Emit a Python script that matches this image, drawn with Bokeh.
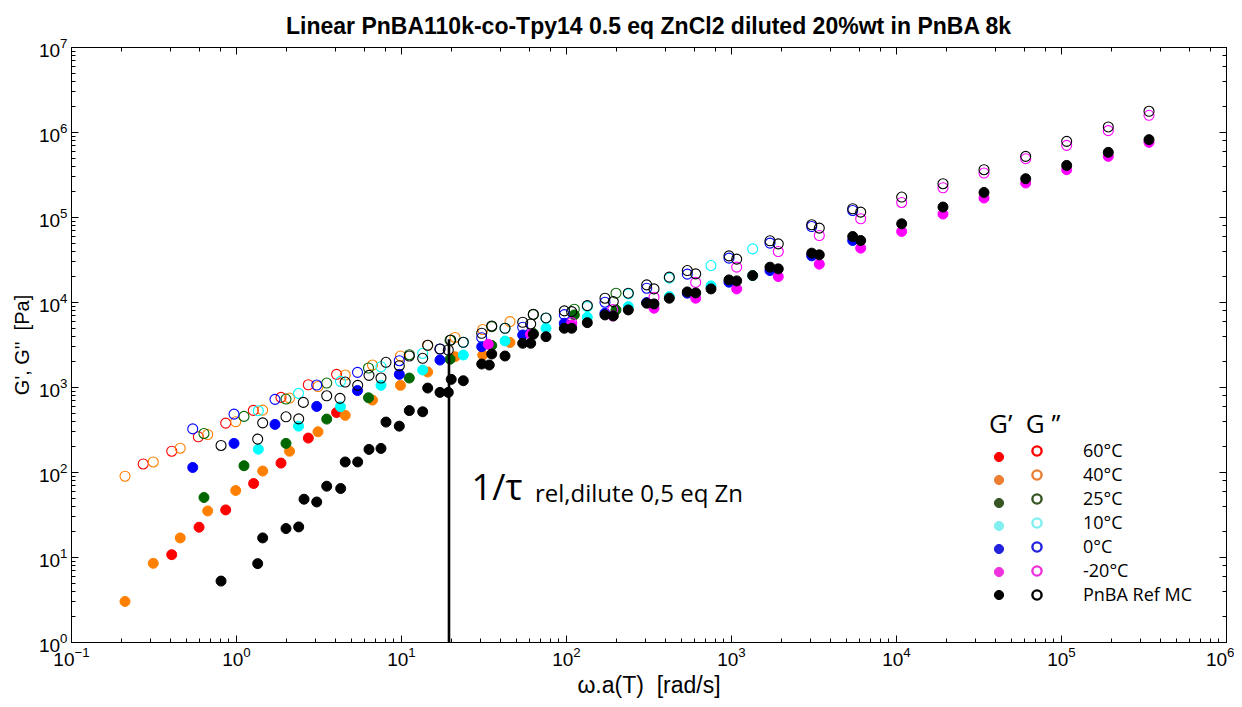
from bokeh.plotting import figure
from bokeh.models import LogAxis, Range1d, Label, Legend, LegendItem
from bokeh.embed import file_html
from bokeh.resources import INLINE

# ---------------- data (omega.a(T) in rad/s, G in Pa) ----------------
red_open_w = [0.272, 0.405, 0.587, 0.860, 1.264, 1.861, 2.724, 4.04]
red_open_g = [126, 178, 263, 381, 538, 765, 1077, 1428]
red_fill_w = [0.405, 0.593, 0.860, 1.27, 1.861, 2.724, 4.04]
red_fill_g = [10.8, 22.7, 36.3, 74.2, 129, 254, 507]

orange_w = [0.211, 0.313, 0.456, 0.669, 0.989, 1.441, 2.096, 3.118, 4.558, 6.671,
            9.861, 14.41, 21.1, 31.06, 45.46]
orange_open_g = [90.4, 133, 193, 280, 395, 542, 751, 1026, 1402, 1838,
                 2347, 3138, 3877, 4817, 5953]
orange_fill_g = [3.04, 8.54, 17.0, 35.3, 61.4, 104, 178, 301, 470, 711,
                 1060, 1521, 2303, 2412, 3385]

green_w = [0.635, 1.110, 1.995, 3.522, 6.31, 11.15, 19.7, 35.22, 62.92, 111.5, 199.5]
green_open_g = [288, 457, 731, 1128, 1695, 2431, 3593, 5197, 7197, 8333, 12865]
green_fill_g = [50.8, 120, 220, 425, 757, 1292, 2151, 3121, 4321, 7138, 8178]

cyan_w = [1.356, 2.376, 4.268, 7.511, 13.44, 23.69, 42.40, 75.11, 133.7, 236.9,
          419.8, 751.1, 1344]
cyan_open_g = [532, 853, 1181, 1755, 2525, 3403, 4976, 6526, 8942, 12620,
               19320, 27200, 42790]
cyan_fill_g = [188, 351, 593, 1060, 1605, 2412, 3526, 4976, 6705, 8942,
               11730, 15680, 20740]

blue_w = [0.543, 0.966, 1.711, 3.063, 5.412, 9.698, 17.11, 30.63, 54.27, 96.98,
          171.1, 306.3, 539.7, 965.6, 1711, 3063, 5427]
blue_open_g = [326, 486, 725, 1069, 1508, 2066, 2838, 3856, 5113, 7197,
               10080, 14730, 21540, 33240, 49940, 78390, 121000]
blue_fill_g = [114.5, 220, 368, 599, 920, 1428, 2105, 3021, 4150, 5698,
               7474, 9968, 12870, 17340, 23750, 35390, 53600]

magenta_fill_w = [33.58, 60.5, 107.5, 190.6, 339.1, 606.7, 1075, 1921, 3405, 6067,
                  10750, 19130, 33910, 60670, 107500, 192100, 339100]
magenta_fill_g = [3224, 4228, 5443, 6947, 8564, 11230, 14450, 20180, 28260, 43610,
                  68440, 109700, 169400, 254400, 365000, 523800, 765600]
magenta_open_w = [107.5, 190.6, 339.1, 606.7, 1075, 1921, 3405, 6067,
                  10750, 19130, 33910, 60670, 107500, 192100, 339100]
magenta_open_g = [5793, 8244, 11540, 17240, 26040, 39780, 61400, 96580,
                  150300, 224000, 333800, 492000, 705900, 1052000, 1593000]

black_fill_w = [0.806, 1.344, 1.441, 1.995, 2.382, 2.566, 3.063, 3.522, 4.28, 4.558,
                5.427, 6.353, 7.511, 8.055, 9.698, 11.15, 13.44, 14.41, 17.11, 19.21,
                20.01, 23.69, 30.63, 34.05, 35.22, 42.4, 54.27, 60.67, 62.92, 75.11,
                96.98, 107.5, 133.7, 171.1, 192.1, 236.9, 306.3, 339.1, 419.8, 539.7,
                606.7, 751.1, 965.6, 1075, 1344, 1711, 1921, 3063, 3405, 5427,
                6067, 10750, 19130, 33910, 60670, 107500, 192100, 339100]
black_fill_g = [5.28, 8.47, 17.0, 21.9, 22.9, 48.5, 45.0, 69.0, 64.8, 133,
                133, 187, 192, 392, 351, 535, 518, 985, 876, 876,
                1247, 1201, 1889, 1838, 2478, 2347, 3312, 3312, 4228, 3963,
                4976, 4976, 5793, 7138, 6947, 8178, 9806, 9623, 11230, 13320,
                12970, 14450, 18450, 17960, 20740, 26040, 24870, 38080, 36370, 59750,
                53600, 84330, 132700, 197100, 286000, 410200, 583900, 823900]
black_open_w = [0.806, 1.344, 1.441, 1.995, 2.382, 2.541, 3.522, 4.24, 4.558, 5.427,
                6.353, 7.511, 8.055, 9.698, 11.15, 13.44, 14.41, 17.11, 19.21, 19.87,
                23.69, 30.63, 35.22, 42.4, 54.27, 60.67, 62.92, 75.11, 96.98, 107.5,
                133.7, 171.1, 192.1, 236.9, 306.3, 339.1, 419.8, 539.7, 606.7, 965.6,
                1075, 1711, 1921, 3063, 3405, 5427, 6067, 10750, 19130, 33910,
                60670, 107500, 192100, 339100]
black_open_g = [208, 247, 384, 452, 428, 668, 799, 745, 1159, 1060,
                1390, 1292, 1978, 1804, 2347, 2205, 3138, 2838, 2762, 3623,
                3403, 4345, 5297, 4976, 5856, 5592, 7275, 6581, 7960, 7806,
                9189, 11230, 10240, 12870, 16120, 14450, 19860, 23750, 21720, 35390,
                32360, 53170, 49000, 82100, 75060, 126700, 115800, 174000, 249700, 365000,
                523800, 786700, 1163000, 1776000]

tau_line_w = [19.4, 19.4]
tau_line_g = [1.0, 3700]

legend_labels = ["60°C", "40°C", "25°C", "10°C", "0°C", "-20°C", "PnBA Ref MC"]
legend_colors = ["#FF0000", "#ED7D31", "#375623", "#7FEFEF", "#2222DD", "#EE33DD", "#000000"]

# ---------------- figure ----------------
AXF = "Liberation Sans"
ANF = "Open Sans"
NB = "\u00a0"

p = figure(width=1234, height=700, x_axis_type="log", y_axis_type="log",
           x_range=Range1d(0.1, 1e6), y_range=Range1d(1, 1e7),
           output_backend="svg", toolbar_location=None,
           min_border_left=71, min_border_right=8, min_border_top=47, min_border_bottom=57,
           title="Linear PnBA110k-co-Tpy14 0.5 eq ZnCl2 diluted 20%wt in PnBA 8k")
p.grid.visible = False
p.outline_line_color = "black"
p.outline_line_width = 1
p.background_fill_color = "white"
p.border_fill_color = "white"

p.title.align = "center"
p.title.text_font = AXF
p.title.text_font_size = "23px"
p.title.text_font_style = "bold"
p.title.text_color = "#000000"
p.title.standoff = 17

def style_axis(ax, show_labels=True):
    ax.major_tick_in = 7
    ax.major_tick_out = 0
    ax.minor_tick_in = 4
    ax.minor_tick_out = 0
    ax.axis_line_color = "black"
    ax.major_tick_line_color = "black"
    ax.minor_tick_line_color = "black"
    ax.major_label_text_font = AXF
    ax.major_label_text_color = "black"
    if show_labels:
        ax.major_label_text_font_size = "19px"
        ax.major_label_standoff = 4
    else:
        ax.major_label_text_font_size = "1px"
        ax.major_label_text_alpha = 0
        ax.major_label_standoff = 0

style_axis(p.xaxis[0])
style_axis(p.yaxis[0])
p.xaxis[0].axis_label = "ω.a(T)" + NB + NB + "[rad/s]"
p.yaxis[0].axis_label = "G', G''" + NB + NB + "[Pa]"
p.xaxis[0].axis_label_text_font_size = "23px"
p.yaxis[0].axis_label_text_font_size = "20px"
for ax in (p.xaxis[0], p.yaxis[0]):
    ax.axis_label_text_font = AXF
    ax.axis_label_text_color = "black"
    ax.axis_label_text_font_style = "normal"
    ax.axis_label_standoff = 3

top_ax = LogAxis()
right_ax = LogAxis()
style_axis(top_ax, False)
style_axis(right_ax, False)
p.add_layout(top_ax, "above")
p.add_layout(right_ax, "right")

# ---------------- data marks ----------------
S = 10
series = [
    (red_fill_w, red_fill_g, red_open_w, red_open_g, "#FF0000"),
    (orange_w, orange_fill_g, orange_w, orange_open_g, "#FF8000"),
    (green_w, green_fill_g, green_w, green_open_g, "#006600"),
    (cyan_w, cyan_fill_g, cyan_w, cyan_open_g, "#00FFFF"),
    (blue_w, blue_fill_g, blue_w, blue_open_g, "#0000FF"),
    (magenta_fill_w, magenta_fill_g, magenta_open_w, magenta_open_g, "#FF00FF"),
    (black_fill_w, black_fill_g, black_open_w, black_open_g, "#000000"),
]
for fw, fg, ow, og, col in series:
    p.scatter(fw, fg, marker="circle", size=S, fill_color=col, line_color=col, line_width=1)
    p.scatter(ow, og, marker="circle", size=S, fill_color=None, line_color=col, line_width=1.1)

p.line(tau_line_w, tau_line_g, line_color="black", line_width=2.6)

# ---------------- annotations ----------------
p.add_layout(Label(x=26.6, y=69.0, text="1/τ", text_font=ANF, text_font_size="36px",
                   text_color="black", text_baseline="alphabetic"))
p.add_layout(Label(x=64.4, y=57.5, text="rel,dilute 0,5 eq Zn", text_font=ANF,
                   text_font_size="24px", text_color="black", text_baseline="alphabetic"))
p.add_layout(Label(x=36370, y=385.0, text="G’" + NB + NB + "G" + NB + "’’", text_font=ANF,
                   text_font_size="26px", text_color="black", text_baseline="alphabetic"))

# legend: filled column (no text) and open column (with text); swatch-only renderers
nan = float("nan")
items_f, items_o = [], []
for lab, col in zip(legend_labels, legend_colors):
    rf = p.scatter([nan], [nan], marker="circle", size=S, fill_color=col, line_color=col)
    ro = p.scatter([nan], [nan], marker="circle", size=S, fill_color=None, line_color=col,
                   line_width=2.4)
    items_f.append(LegendItem(label="  ", renderers=[rf]))
    items_o.append(LegendItem(label=lab, renderers=[ro]))

def make_legend(items, loc, standoff):
    return Legend(items=items, location=loc, orientation="vertical",
                  glyph_width=25, glyph_height=23, spacing=0, padding=0, margin=0,
                  label_standoff=standoff, label_height=20, label_width=10,
                  label_text_font=ANF, label_text_font_size="18px", label_text_color="black",
                  label_text_baseline="middle",
                  background_fill_alpha=0, border_line_alpha=0)

p.add_layout(make_legend(items_f, (915, 36), 0), "center")
p.add_layout(make_legend(items_o, (953, 36), 34), "center")

open("out.html", "w").write(file_html(p, INLINE))
